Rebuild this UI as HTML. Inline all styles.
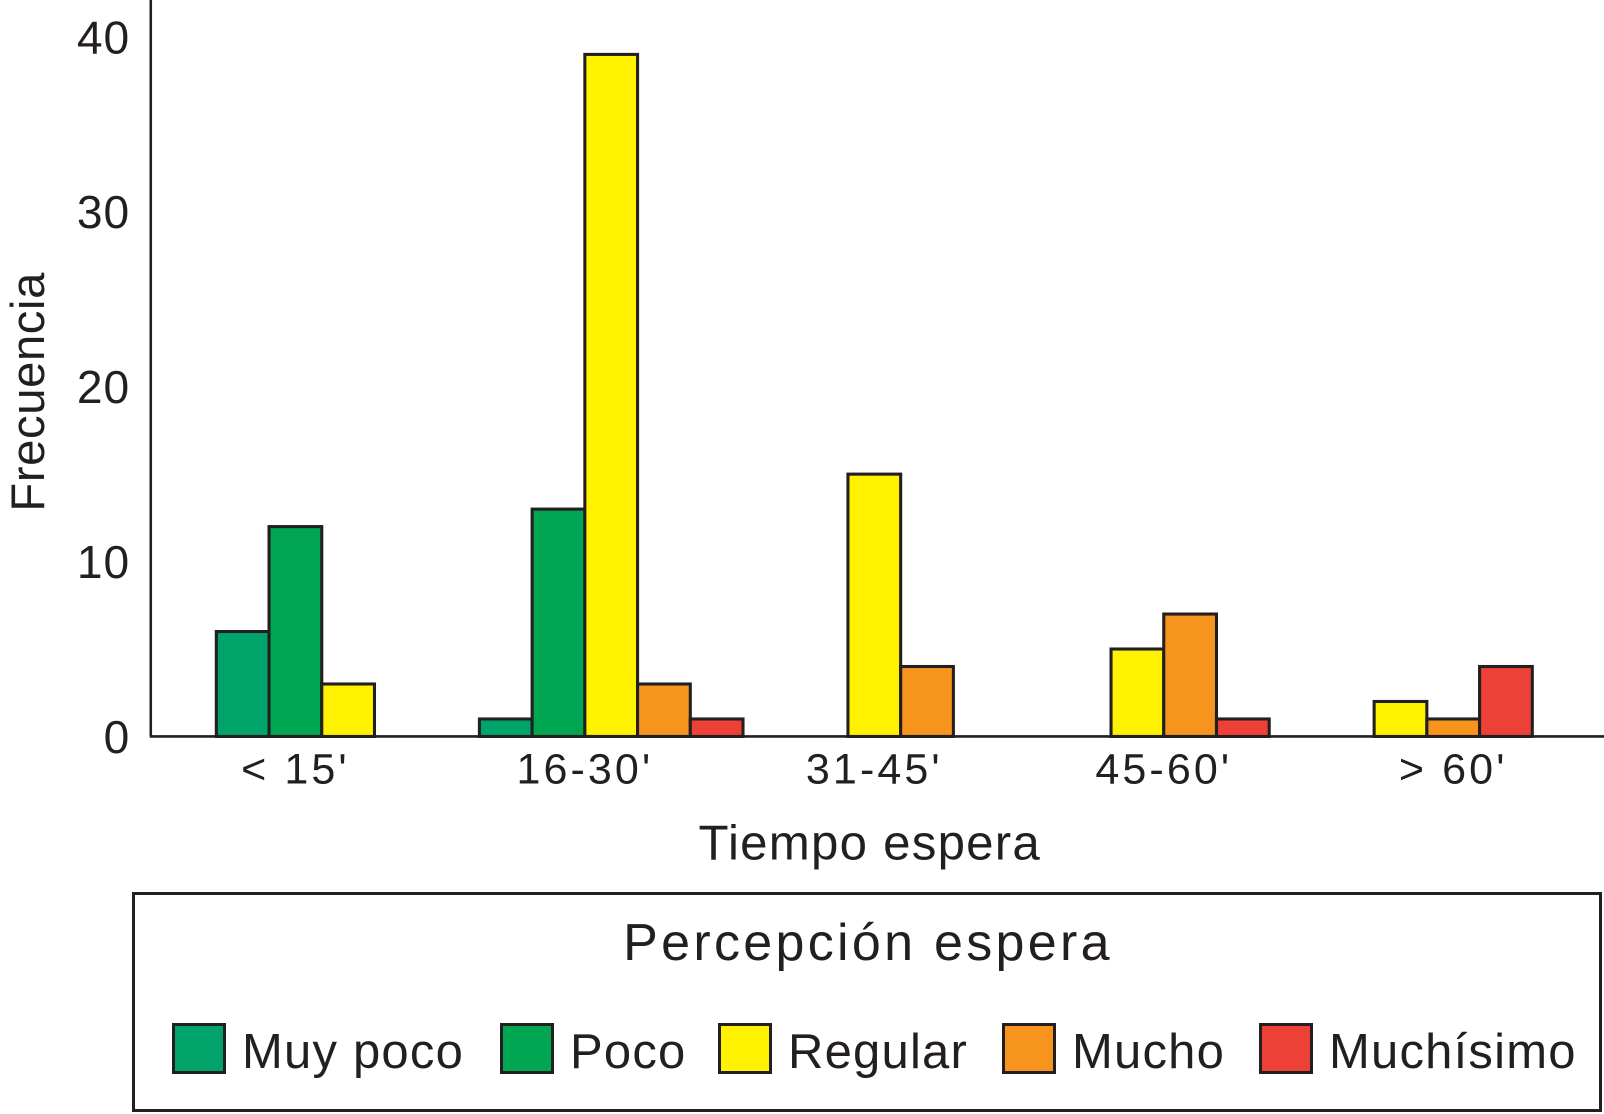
<!DOCTYPE html>
<html><head><meta charset="utf-8"><style>
html,body{margin:0;padding:0;background:#fff;}
svg{display:block;font-family:"Liberation Sans",Arial,sans-serif;}
</style></head><body>
<svg id="chart" width="1604" height="1114" viewBox="0 0 1604 1114" xmlns="http://www.w3.org/2000/svg">
<g id="plot" transform="scale(1.0257)"></g>
</svg>
<script>
const categories = ["< 15'", "16-30'", "31-45'", "45-60'", "> 60'"];
const seriesNames = ["Muy poco", "Poco", "Regular", "Mucho", "Muchísimo"];
const muyPoco = [6, 1, 0, 0, 0];
const poco = [12, 13, 0, 0, 0];
const regular = [3, 39, 15, 5, 2];
const mucho = [0, 3, 4, 7, 1];
const muchisimo = [0, 1, 0, 1, 4];
const yTicks = [0, 10, 20, 30, 40];
const dodgeShift = [0, 0.5, 0.5, 0.5, 0];
const colors = ["#00a46b", "#00a651", "#fff200", "#f7941d", "#ed4036"];
const series = [muyPoco, poco, regular, mucho, muchisimo];

const svg = document.getElementById('chart');
const plot = document.getElementById('plot');


const NS = "http://www.w3.org/2000/svg";
function mk(tag, attrs, parent){const e=document.createElementNS(NS,tag);for(const k in attrs)e.setAttribute(k,attrs[k]);(parent||svg).appendChild(e);return e;}

const y0 = 718, pxPerUnit = 17.05;
const yScale = v => y0 - v * pxPerUnit;
const xCenter = i => 288 + i * 282.2;
const barW = 51.4;

const yAxis = mk('line',{x1:147,y1:0,x2:147,y2:y0,stroke:'#231f20','stroke-width':2.5},plot);


const xAxis = mk('line',{x1:146,y1:y0,x2:1564,y2:y0,stroke:'#231f20','stroke-width':2.5},plot);



yTicks.forEach(t=>{
  const tx = mk('text',{x:127,y:yScale(t)+16,'text-anchor':'end','font-size':45,'letter-spacing':1,fill:'#231f20'},plot);
  tx.textContent = t;
  
  
});

categories.forEach((c,i)=>{
  const present = [];
  series.forEach((s,k)=>{ if(s[i]>0) present.push(k); });
  const start = xCenter(i) - present.length*barW/2 + dodgeShift[i]*barW;
  present.forEach((k,j)=>{
    const v = series[k][i];
    const r = mk('rect',{x:start+j*barW,y:yScale(v),width:barW,height:y0-yScale(v),fill:colors[k],stroke:'#231f20','stroke-width':3},plot);
    
    
  });
  const tl = mk('text',{x:xCenter(i),y:764,'text-anchor':'middle','font-size':42,'letter-spacing':3,fill:'#231f20'},plot);
  tl.textContent = c;
  
  
});

const xt = mk('text',{x:848,y:838,'text-anchor':'middle','font-size':48,'letter-spacing':1.2,fill:'#231f20'},plot);
xt.textContent = 'Tiempo espera';



const yt = mk('text',{x:0,y:0,'text-anchor':'middle','font-size':46,'letter-spacing':0.6,fill:'#231f20',transform:'translate(43,382) rotate(-90)'},plot);
yt.textContent = 'Frecuencia';



const lg = mk('g',{});


mk('rect',{x:133.5,y:893.5,width:1467,height:217,fill:'#fff',stroke:'#231f20','stroke-width':3},lg);
const lt = mk('text',{x:868,y:960,'text-anchor':'middle','font-size':52,'letter-spacing':3.3,fill:'#231f20'},lg);
lt.textContent = 'Percepción espera';


const swX = [172, 500, 718, 1002, 1259];
seriesNames.forEach((n,k)=>{
  const g = mk('g',{},lg);
  
  
  mk('rect',{x:swX[k]+1.5,y:1024.5,width:51,height:48,fill:colors[k],stroke:'#231f20','stroke-width':3},g);
  const t = mk('text',{x:swX[k]+70,y:1068,'font-size':49,'letter-spacing':1.2,fill:'#231f20'},g);
  t.textContent = n;
});
</script>
</body></html>
